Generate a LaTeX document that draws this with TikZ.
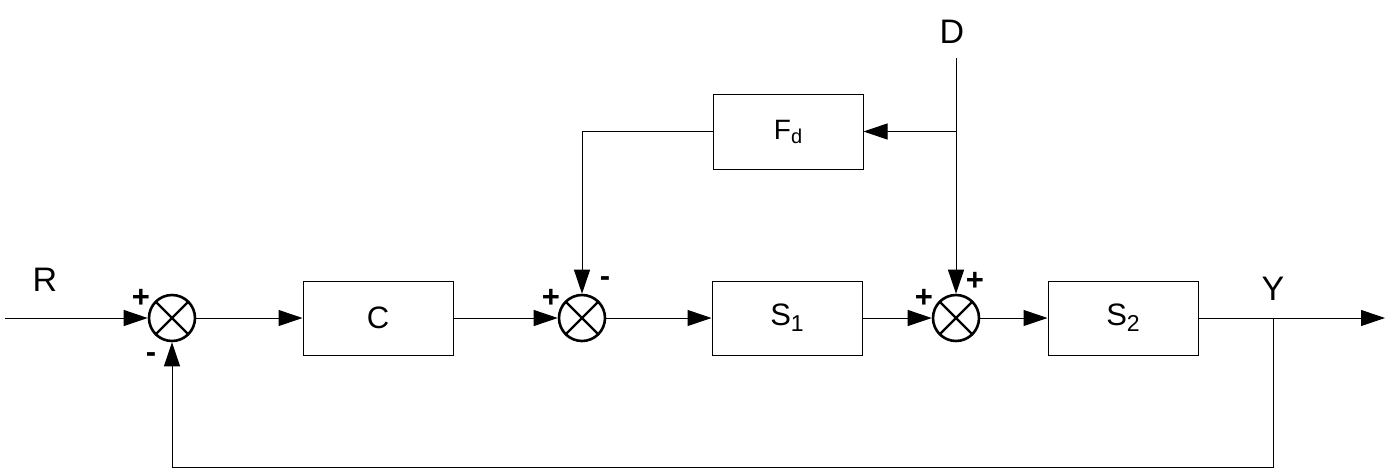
\documentclass[tikz,border=0pt]{standalone}
\usepackage{fontspec}
\setmainfont{Liberation Sans}
\usetikzlibrary{arrows.meta}
\newcommand{\lowsub}[2]{\raisebox{#1}{\fontsize{#2}{#2}\selectfont}}
\begin{document}
\begin{tikzpicture}[x=1pt,y=-1pt,
  blk/.style={draw, line width=1pt, minimum width=150pt, minimum height=74pt, inner sep=0pt, font=\fontsize{31}{34}\selectfont},
  sumj/.style={draw, circle, line width=2.6pt, minimum size=46pt, inner sep=0pt,
    path picture={\draw[line width=2.4pt] (path picture bounding box.north west) -- (path picture bounding box.south east)
      (path picture bounding box.north east) -- (path picture bounding box.south west);}},
  wire/.style={line width=1pt},
  arr/.style={wire, -{Triangle[length=24pt,width=16pt]}},
  sig/.style={font=\bfseries\fontsize{31}{33}\selectfont, inner sep=0pt},
  lbl/.style={font=\fontsize{34}{36}\selectfont, inner sep=0pt}]
\useasboundingbox (0,0) rectangle (1388,469);
\node[sumj] (s1) at (172,318) {};
\node[sumj] (s2) at (582,318) {};
\node[sumj] (s3) at (956,318) {};
\node[blk] (c) at (378,318) {C};
\node[blk] (p1) at (787,318) {S\raisebox{-6pt}{\fontsize{23}{25}\selectfont 1}};
\node[blk] (p2) at (1123,318) {S\raisebox{-6pt}{\fontsize{23}{25}\selectfont 2}};
\node[blk, minimum height=75pt, font=\fontsize{28}{30}\selectfont] (fd) at (788,131.5) {F\raisebox{-4pt}{\fontsize{20}{22}\selectfont d}};
\coordinate (in) at (5,318);
\coordinate (dtop) at (956,58);
\coordinate (dbr) at (956,131.5);
\coordinate (ybr) at (1273,318);
\coordinate (out) at (1385,318);
\coordinate (fb1) at (1273,467);
\coordinate (fb2) at (172,467);
\coordinate (fdl) at (582,131.5);
\node[lbl] (R) at (45,280) {R};
\node[lbl] (D) at (952,32) {D};
\node[lbl] (Y) at (1273,289) {Y};
\draw[arr] (in) -- (s1);
\draw[arr] (s1) -- (c);
\draw[arr] (c) -- (s2);
\draw[arr] (s2) -- (p1);
\draw[arr] (p1) -- (s3);
\draw[arr] (s3) -- (p2);
\draw[arr] (p2.east) -- (out);
\draw[arr] (dtop) -- (s3);
\draw[arr] (dbr) -- (fd);
\draw[arr] (fd.west) -- (fdl) -- (s2);
\draw[arr] (ybr) -- (fb1) -- (fb2) -- (s1);
\node[sig] (p11) at (141,298) {+};
\node[sig] (m11) at (151,358) {-};
\node[sig] (p21) at (551,298) {+};
\node[sig] (m21) at (605,282) {-};
\node[sig] (p31) at (924,298) {+};
\node[sig] (p32) at (975,281) {+};
\end{tikzpicture}
\end{document}
